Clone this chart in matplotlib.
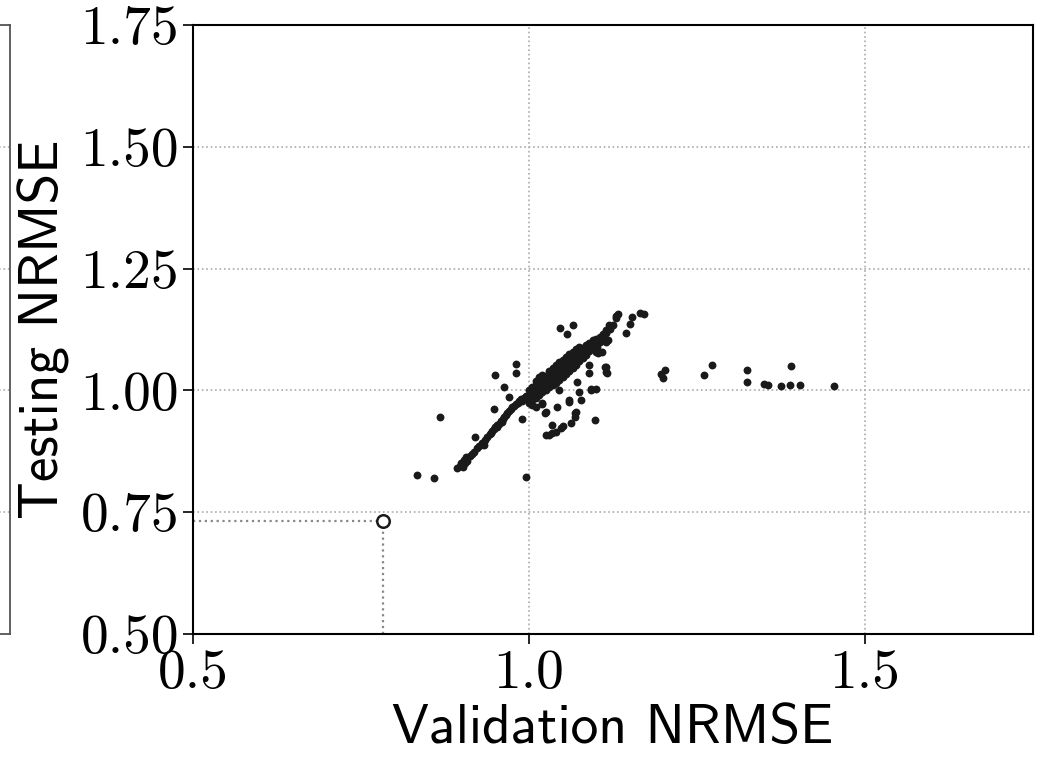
import numpy as np
import matplotlib
matplotlib.use('Agg')
import matplotlib.pyplot as plt

plt.rcParams['font.family'] = ['cmr10', 'DejaVu Sans']
plt.rcParams['axes.formatter.use_mathtext'] = False

# Main diagonal band (validation, testing)
band_x = [0.893, 0.897, 0.900, 0.902, 0.905, 0.899, 0.904, 0.908, 0.906, 0.912,
          0.918, 0.922, 0.926, 0.930, 0.935, 0.938, 0.942, 0.945, 0.948, 0.950,
          0.953, 0.956, 0.958, 0.961, 0.963, 0.966, 0.968, 0.970, 0.973, 0.975,
          0.978, 0.980, 0.983, 0.985, 0.988, 0.990, 0.992, 0.995, 0.997, 0.960,
          0.952, 0.944, 0.933, 0.915,
          1.000, 1.000, 1.000, 1.005, 1.005, 1.005, 1.005, 1.010, 1.010, 1.010, 1.010,
          1.015, 1.015, 1.015, 1.015, 1.020, 1.020, 1.020, 1.020, 1.025, 1.025, 1.025, 1.025,
          1.030, 1.030, 1.030, 1.030, 1.035, 1.035, 1.035, 1.035, 1.040, 1.040, 1.040, 1.040,
          1.045, 1.045, 1.045, 1.045, 1.050, 1.050, 1.050, 1.050, 1.055, 1.055, 1.055, 1.055,
          1.060, 1.060, 1.060, 1.060, 1.065, 1.065, 1.065, 1.065, 1.070, 1.070, 1.070, 1.070,
          1.075, 1.075, 1.075, 1.075, 1.080, 1.080, 1.080, 1.085, 1.085, 1.085,
          1.090, 1.090, 1.090, 1.095, 1.095, 1.095, 1.100, 1.100, 1.105, 1.105,
          1.110, 1.110, 1.115, 1.115, 1.120, 1.125, 1.129, 1.129]
band_y = [0.840, 0.845, 0.848, 0.843, 0.852, 0.852, 0.858, 0.855, 0.864, 0.866,
          0.874, 0.882, 0.886, 0.893, 0.898, 0.905, 0.910, 0.916, 0.920, 0.925,
          0.930, 0.932, 0.938, 0.941, 0.946, 0.949, 0.953, 0.958, 0.961, 0.965,
          0.968, 0.972, 0.975, 0.979, 0.982, 0.978, 0.985, 0.988, 0.983, 0.936,
          0.924, 0.912, 0.888, 0.870,
          0.975, 0.990, 1.000, 0.980, 0.995, 1.008, 0.970, 0.985, 0.998, 1.012, 1.020,
          0.990, 1.004, 1.018, 1.028, 0.996, 1.010, 1.024, 1.032, 1.000, 1.015, 1.030, 1.020,
          1.006, 1.020, 1.034, 1.040, 1.012, 1.026, 1.040, 1.046, 1.016, 1.030, 1.044, 1.052,
          1.022, 1.036, 1.050, 1.058, 1.028, 1.042, 1.056, 1.062, 1.034, 1.048, 1.060, 1.068,
          1.040, 1.052, 1.066, 1.074, 1.046, 1.058, 1.072, 1.078, 1.052, 1.064, 1.078, 1.084,
          1.060, 1.070, 1.082, 1.090, 1.066, 1.078, 1.088, 1.072, 1.084, 1.094,
          1.080, 1.092, 1.098, 1.088, 1.098, 1.104, 1.094, 1.106, 1.100, 1.110,
          1.108, 1.116, 1.118, 1.124, 1.126, 1.134, 1.148, 1.152]

# Scattered runs off the band
scatter_x = [1.045, 1.059, 1.071, 1.074, 1.077, 1.042, 1.019, 1.025, 1.070, 1.114,
             1.114, 1.089, 1.089, 1.092, 1.101, 1.108, 1.114, 1.099, 1.010, 1.020,
             1.025, 1.030, 1.034, 1.040, 1.047, 1.050, 1.034, 1.062, 1.069, 1.069,
             1.098, 1.024, 1.059, 1.046, 1.065, 1.056, 0.981, 0.981, 0.950, 0.963,
             0.970, 0.948, 0.868, 0.834, 0.858, 0.996, 0.920, 0.990,
             1.171, 1.165, 1.153, 1.132, 1.151, 1.145, 1.119, 1.114, 1.117, 1.102,
             1.113, 1.116, 1.092, 1.099]
scatter_y = [1.001, 0.980, 1.017, 0.997, 0.980, 0.966, 0.974, 0.956, 0.956, 1.048,
             1.038, 1.036, 1.052, 1.001, 1.089, 1.079, 1.099, 1.079, 0.965, 0.972,
             0.908, 0.908, 0.913, 0.915, 0.923, 0.927, 0.929, 0.933, 0.954, 0.945,
             0.939, 0.954, 0.976, 1.128, 1.134, 1.116, 1.054, 1.036, 1.032, 1.007,
             0.986, 0.962, 0.945, 0.826, 0.820, 0.822, 0.904, 0.941,
             1.157, 1.158, 1.151, 1.157, 1.136, 1.118, 1.134, 1.120, 1.103, 1.077,
             1.048, 1.036, 1.003, 1.003]

# Far-right outliers
outlier_x = [1.197, 1.202, 1.199, 1.261, 1.272, 1.325, 1.325, 1.350, 1.356, 1.375,
             1.389, 1.390, 1.404, 1.454]
outlier_y = [1.034, 1.042, 1.025, 1.032, 1.052, 1.042, 1.017, 1.013, 1.011, 1.009,
             1.011, 1.050, 1.011, 1.009]

# Selected model
best_x, best_y = 0.782, 0.732

xticks = [0.5, 1.0, 1.5]
xticklabels = ['0.5', '1.0', '1.5']
yticks = [0.50, 0.75, 1.00, 1.25, 1.50, 1.75]
yticklabels = ['0.50', '0.75', '1.00', '1.25', '1.50', '1.75']

fig = plt.figure(figsize=(10.41, 7.63), dpi=100)
ax = fig.add_axes([193 / 1041, 1 - 634 / 763, 840 / 1041, 609 / 763])

# right edge of the neighbouring panel
ax0 = fig.add_axes([-0.5, 1 - 634 / 763, 0.5 + 10 / 1041, 609 / 763])
ax0.set_ylim(0.5, 1.75)
ax0.set_yticks(yticks)
ax0.set_xticks([])
ax0.tick_params(left=False, labelleft=False)
ax0.grid(True, axis='y', color='#aaaaaa', linestyle=':', linewidth=1.2)
for s in ax0.spines.values():
  s.set_linewidth(1.3)
  s.set_color('#555555')

ax.scatter(band_x, band_y, s=32, color='#1a1a1a', linewidths=0, zorder=3)
ax.scatter(scatter_x, scatter_y, s=32, color='#1a1a1a', linewidths=0, zorder=3)
ax.scatter(outlier_x, outlier_y, s=32, color='#1a1a1a', linewidths=0, zorder=3)

ax.plot([0.5, best_x], [best_y, best_y], ':', color='#888888', lw=1.6, zorder=2)
ax.plot([best_x, best_x], [0.5, best_y], ':', color='#888888', lw=1.6, zorder=2)
ax.plot([best_x], [best_y], 'o', ms=9, mfc='white', mec='#1a1a1a', mew=1.8, zorder=4)

ax.set_xlim(0.5, 1.75)
ax.set_ylim(0.5, 1.75)
ax.set_xticks(xticks, xticklabels)
ax.set_yticks(yticks, yticklabels)
ax.grid(True, color='#aaaaaa', linestyle=':', linewidth=1.2)
ax.set_axisbelow(True)
ax.tick_params(direction='out', length=7, width=1.2, labelsize=40, pad=3)
ax.tick_params(axis='x', pad=4)
for s in ax.spines.values():
  s.set_linewidth(1.5)

ax.set_xlabel('Validation NRMSE', family='cmss10', fontsize=40)
ax.set_ylabel('Testing NRMSE', family='cmss10', fontsize=40)
ax.xaxis.set_label_coords(0.5, -0.115)
ax.yaxis.set_label_coords(-0.146, 0.5)

fig.savefig('out.png', dpi=100)
